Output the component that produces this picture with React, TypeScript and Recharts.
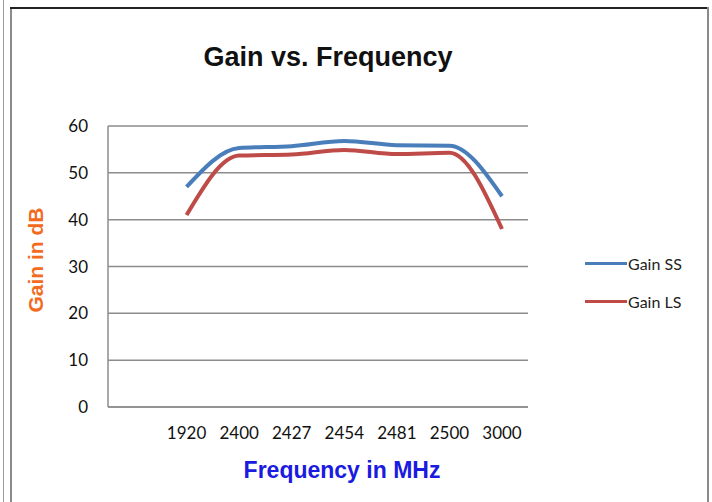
import React from "react";
import { LineChart, Line, XAxis, YAxis, CartesianGrid, Legend } from "recharts";

const frequencies = ["", "1920", "2400", "2427", "2454", "2481", "2500", "3000"];
const gainSS = [null, 47, 55.3, 55.7, 56.8, 55.9, 55.8, 45];
const gainLS = [null, 41, 53.7, 53.9, 54.9, 54.0, 54.3, 38];
const yTicks = [0, 10, 20, 30, 40, 50, 60];

const data = frequencies.map((f, i) => ({ freq: f, ss: gainSS[i], ls: gainLS[i] }));

const BLUE = "#4a7ebb";
const RED = "#be4b48";

const LegendContent = () => (
  <div style={{ fontFamily: "Lato, sans-serif", fontSize: 16, color: "#222" }}>
    {[
      { name: "Gain SS", color: BLUE },
      { name: "Gain LS", color: RED },
    ].map((it, i) => (
      <div key={it.name} style={{ display: "flex", alignItems: "center", height: 20, marginBottom: i === 0 ? 18 : 0 }}>
        <div style={{ width: 42, height: 3, background: it.color }} />
        <span style={{ marginLeft: 1 }}>{it.name}</span>
      </div>
    ))}
  </div>
);

export default function App() {
  return (
    <div style={{ position: "absolute", left: 0, top: 0, width: 712, height: 502, background: "#fff", overflow: "hidden" }}>
      <div style={{ position: "absolute", left: 3, top: 0, width: 1, height: 502, background: "#9a9a9a" }} />
      <div style={{ position: "absolute", left: 10, top: 7, width: 2, height: 495, background: "#8a8a8a" }} />
      <div style={{ position: "absolute", left: 10, top: 7, width: 699, height: 2, background: "#222" }} />
      <div style={{ position: "absolute", left: 707, top: 7, width: 2, height: 495, background: "#8a8a8a" }} />
      <div style={{ position: "absolute", left: 0, top: 0 }}>
        <LineChart width={712} height={502} data={data} margin={{ top: 126, right: 184, bottom: 65, left: 58 }}>
          <text x={328} y={66} textAnchor="middle" fontFamily="'Liberation Sans', Arial, sans-serif" fontWeight="bold" fontSize={27} fill="#111">
            Gain vs. Frequency
          </text>
          <text
            x={43}
            y={260}
            transform="rotate(-90 43 260)"
            textAnchor="middle"
            fontFamily="'Liberation Sans', Arial, sans-serif"
            fontWeight="bold"
            fontSize={21}
            fill="#f26b21"
          >
            Gain in dB
          </text>
          <text x={342} y={478} textAnchor="middle" fontFamily="'Liberation Sans', Arial, sans-serif" fontWeight="bold" fontSize={23} fill="#1a1ae0">
            Frequency in MHz
          </text>
          <CartesianGrid vertical={false} stroke="#8c8c8c" strokeWidth={1.5} />
          <XAxis
            dataKey="freq"
            interval={0}
            tickLine={false}
            padding={{ left: 26, right: 26 }}
            axisLine={{ stroke: "#8c8c8c", strokeWidth: 1.5 }}
            tick={{ fontFamily: "Lato, sans-serif", fontSize: 17, fill: "#111" }}
            tickMargin={14}
            height={30}
          />
          <YAxis
            domain={[0, 60]}
            ticks={yTicks}
            interval={0}
            tickLine={false}
            axisLine={{ stroke: "#8c8c8c", strokeWidth: 1.5 }}
            tick={{ fontFamily: "Lato, sans-serif", fontSize: 17, fill: "#111" }}
            tickMargin={14}
            width={50}
          />
          <Legend
            layout="vertical"
            align="center"
            verticalAlign="middle"
            content={<LegendContent />}
            wrapperStyle={{ position: "absolute", left: 585, top: 253, width: 120 }}
          />
          <Line type="monotone" dataKey="ss" name="Gain SS" stroke={BLUE} strokeWidth={4} dot={false} isAnimationActive={false} />
          <Line type="monotone" dataKey="ls" name="Gain LS" stroke={RED} strokeWidth={4} dot={false} isAnimationActive={false} />
        </LineChart>
      </div>
    </div>
  );
}
